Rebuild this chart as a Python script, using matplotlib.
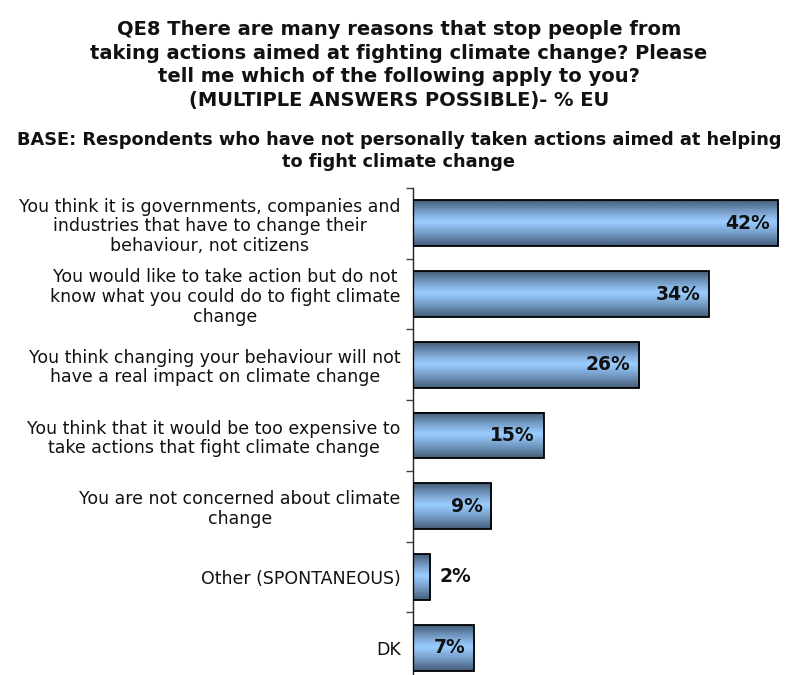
import numpy as np
import matplotlib
matplotlib.use("Agg")
import matplotlib.pyplot as plt
from matplotlib.colors import LinearSegmentedColormap

plt.rcParams["font.family"] = ["DejaVu Sans"]

categories = [
    "You think it is governments, companies and\nindustries that have to change their\nbehaviour, not citizens",
    "You would like to take action but do not\nknow what you could do to fight climate\nchange",
    "You think changing your behaviour will not\nhave a real impact on climate change",
    "You think that it would be too expensive to\ntake actions that fight climate change",
    "You are not concerned about climate\nchange",
    "Other (SPONTANEOUS)",
    "DK",
]
values = [42, 34, 26, 15, 9, 2, 7]
value_labels = ["42%", "34%", "26%", "15%", "9%", "2%", "7%"]

title = ("QE8 There are many reasons that stop people from\n"
         "taking actions aimed at fighting climate change? Please\n"
         "tell me which of the following apply to you?\n"
         "(MULTIPLE ANSWERS POSSIBLE)- % EU")
subtitle = ("BASE: Respondents who have not personally taken actions aimed at helping\n"
            "to fight climate change")

fig = plt.figure(figsize=(7.98, 6.75), dpi=100)
fig.patch.set_facecolor("white")

ax = fig.add_axes([413 / 798, -8 / 675, 377 / 798, 495 / 675])

n = len(values)
ypos = np.arange(n)
bar_h = 0.65

bars = ax.barh(ypos, values, height=bar_h, facecolor="none",
               edgecolor="black", linewidth=1.3, zorder=3)

# vertical gradient: dark top and bottom, light band slightly above the middle
cmap = LinearSegmentedColormap.from_list("bar", ["#48627f", "#7399c2", "#99ccff"])
t = np.linspace(0, 1, 100)
peak = 0.47
d = np.where(t < peak, (peak - t) / peak, (t - peak) / (1 - peak))
prof = np.clip(1 - d ** 1.1 * 1.05, 0, 1)
grad = prof.reshape(-1, 1)

for b in bars:
    x0, y0 = b.get_x(), b.get_y()
    w, h = b.get_width(), b.get_height()
    # row 0 sits at y0, which is the top of the bar on the inverted axis
    ax.imshow(grad, cmap=cmap, vmin=0, vmax=1, aspect="auto",
              extent=(x0, x0 + w, y0, y0 + h), origin="lower",
              zorder=2, interpolation="bilinear")

for y, v, lab in zip(ypos, values, value_labels):
    if v < 5:
        ax.text(v + 1.1, y, lab, ha="left", va="center",
                fontsize=13.5, fontweight="bold", color="#111111", zorder=4)
    else:
        ax.text(v - 1.0, y, lab, ha="right", va="center",
                fontsize=13.5, fontweight="bold", color="#111111", zorder=4)

ax.set_xlim(0, 377 / 8.7)
ax.set_ylim(n - 0.5, -0.5)

ax.set_yticks(ypos)
ax.set_yticklabels(categories, fontsize=12.5, color="#111111")
for lbl in ax.get_yticklabels():
    lbl.set_multialignment("center")
    lbl.set_linespacing(1.12)
ax.tick_params(axis="y", which="major", length=0, pad=9)
ax.set_yticks(np.arange(-0.5, n, 1), minor=True)
ax.tick_params(axis="y", which="minor", length=5, width=1, color="#444444")
ax.set_xticks([])

for s in ["top", "right", "bottom"]:
    ax.spines[s].set_visible(False)
ax.spines["left"].set_color("#222222")
ax.spines["left"].set_linewidth(1.0)

fig.text(0.5, 1 - 65 / 675, title, ha="center", va="center",
         fontsize=14, fontweight="bold", linespacing=1.3, color="#111111")
fig.text(0.5, 1 - 151 / 675, subtitle, ha="center", va="center",
         fontsize=12.75, fontweight="bold", linespacing=1.22, color="#111111")

fig.savefig("out.png", dpi=100, facecolor="white")
